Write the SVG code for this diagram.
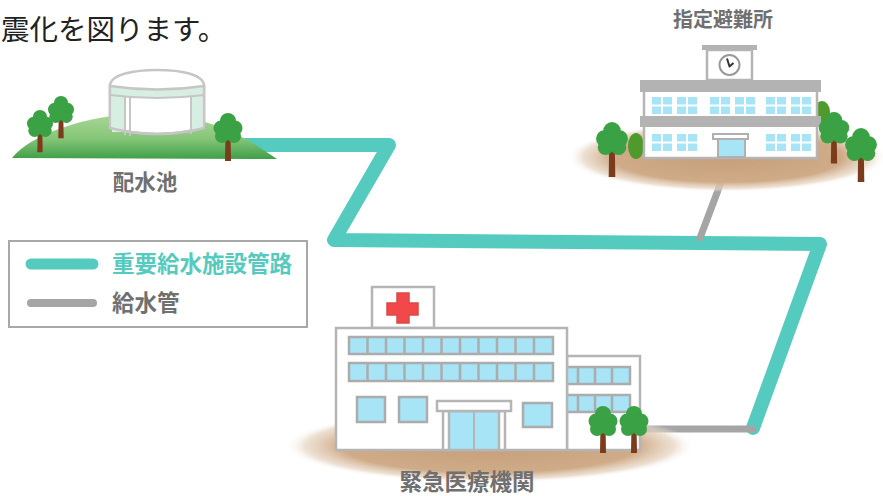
<svg xmlns="http://www.w3.org/2000/svg" xmlns:xlink="http://www.w3.org/1999/xlink" width="883" height="496" viewBox="0 0 883 496">
  <style>
    .lbl { font-family: "Noto Sans CJK JP", "Noto Sans", sans-serif; font-weight: bold; fill: #707070; }
    .title { font-family: "Noto Sans CJK JP", "Noto Sans", sans-serif; fill: #222; }
    .wall { fill: #ffffff; stroke: #b5b5b5; stroke-width: 2.5; }
    .win { fill: #a6e4f6; stroke: #acacac; stroke-width: 2.5; }
    .pane { fill: #a6e4f6; }
    .bar { fill: #b3b3b3; }
    .main-pipe { fill: none; stroke: #55cbbf; stroke-width: 14; stroke-linecap: round; stroke-linejoin: round; }
    .sub-pipe { fill: none; stroke: #a5a5a5; stroke-width: 7; stroke-linecap: round; }
    .trunk { fill: #7c3b1b; }
    .leaf { fill: #3aa244; }
  </style>
  <defs>
    <radialGradient id="ground" cx="0.5" cy="0.5" r="0.5">
      <stop offset="0" stop-color="#c69f7a"/>
      <stop offset="0.72" stop-color="#cfab88"/>
      <stop offset="0.9" stop-color="#e6d3c0" stop-opacity="0.7"/>
      <stop offset="1" stop-color="#ffffff" stop-opacity="0"/>
    </radialGradient>
    <linearGradient id="hill" x1="0" y1="0" x2="0" y2="1">
      <stop offset="0" stop-color="#a9d795"/>
      <stop offset="0.55" stop-color="#86c679"/>
      <stop offset="1" stop-color="#3f9f48"/>
    </linearGradient>
    <g id="canopy">
      <circle class="leaf" cx="0" cy="-11" r="8"/>
      <circle class="leaf" cx="-7" cy="-4" r="7.5"/>
      <circle class="leaf" cx="7" cy="-4" r="7.5"/>
      <circle class="leaf" cx="-6" cy="4" r="7"/>
      <circle class="leaf" cx="6" cy="4" r="7"/>
      <circle class="leaf" cx="0" cy="0" r="8"/>
    </g>
    <!-- 2x2 window block, 20 x 17 -->
    <g id="win4">
      <rect class="pane" x="0" y="0" width="9" height="7.5"/>
      <rect class="pane" x="11" y="0" width="9" height="7.5"/>
      <rect class="pane" x="0" y="9.5" width="9" height="7.5"/>
      <rect class="pane" x="11" y="9.5" width="9" height="7.5"/>
    </g>
  </defs>

  <rect width="883" height="496" fill="#ffffff"/>

  <text class="title" x="1" y="40" font-size="28.5">震化を図ります。</text>

  <!-- pipes -->
  <g id="connectors">
    <polyline class="main-pipe" points="240,145 389,145 334,240 820,244 753,428"/>
    <line class="sub-pipe" x1="720" y1="185" x2="700" y2="238"/>
    <line class="sub-pipe" x1="640" y1="429" x2="753" y2="429"/>
  </g>

  <!-- reservoir -->
  <g id="reservoir">
    <path d="M12,158 C30,135 80,118 130,114 C185,111 230,125 277,159 Z" fill="url(#hill)"/>
    <path class="wall" d="M110,86 L110,128 Q157,140 204,128 L204,86 Z" stroke="#c6c6c6"/>
    <path d="M111.5,87 L202.5,87 L202.5,95 Q157,100 111.5,95 Z" fill="#d6efe2"/>
    <rect x="112" y="94" width="13" height="38" fill="#d6efe2"/>
    <rect x="192" y="94" width="10" height="36" fill="#d6efe2"/>
    <path d="M125,96 L125,135 M130,97 L130,136 M191,97 L191,134" stroke="#c6c6c6" stroke-width="2" fill="none"/>
    <path d="M110,95 Q157,101 204,95" stroke="#c6c6c6" stroke-width="2" fill="none"/>
    <path d="M110,86 L110,128 Q157,140 204,128 L204,86" stroke="#c6c6c6" stroke-width="2.5" fill="none"/>
    <path d="M110,86 C110,74 135,70 157,70 C180,70 204,74 204,86 Q157,93 110,86 Z" fill="#ffffff" stroke="#c6c6c6" stroke-width="2.5"/>
    <g transform="translate(40,127) scale(0.9)">
      <path class="trunk" d="M-2.5,0 L2.5,0 L3,28 L-3,28 Z"/>
      <use href="#canopy"/>
    </g>
    <g transform="translate(61,113) scale(0.9)">
      <path class="trunk" d="M-2.5,0 L2.5,0 L3,28 L-3,28 Z"/>
      <use href="#canopy"/>
    </g>
    <g transform="translate(228,132) scale(1)">
      <path class="trunk" d="M-2.5,0 L2.5,0 L3,29 L-3,29 Z"/>
      <use href="#canopy"/>
    </g>
    <text class="lbl" x="145" y="190" font-size="21.5" text-anchor="middle">配水池</text>
  </g>

  <!-- evacuation shelter -->
  <g id="shelter">
    <ellipse cx="727" cy="157" rx="160" ry="35" fill="url(#ground)"/>
    <ellipse cx="636" cy="146" rx="8" ry="13" fill="#4f9a2c"/>
    <ellipse cx="822" cy="112" rx="8" ry="11" fill="#4f9a2c"/>
    <rect class="bar" x="702" y="45" width="55" height="5"/>
    <rect class="wall" x="707" y="50" width="45" height="30"/>
    <circle cx="729.5" cy="65" r="10" fill="#ffffff" stroke="#9a9a9a" stroke-width="2"/>
    <path d="M727,58.5 L729.5,66.5 L733.5,63" fill="none" stroke="#333" stroke-width="2" stroke-linejoin="round"/>
    <rect class="wall" x="644" y="90" width="173" height="68"/>
    <rect class="bar" x="640" y="80" width="181" height="12"/>
    <rect class="bar" x="640" y="116" width="181" height="11"/>
    <use href="#win4" x="652" y="97"/>
    <use href="#win4" x="677" y="97"/>
    <use href="#win4" x="710" y="97"/>
    <use href="#win4" x="735" y="97"/>
    <use href="#win4" x="766" y="97"/>
    <use href="#win4" x="791" y="97"/>
    <use href="#win4" x="652" y="134"/>
    <use href="#win4" x="677" y="134"/>
    <use href="#win4" x="766" y="134"/>
    <use href="#win4" x="791" y="134"/>
    <rect x="713" y="134" width="35" height="5" fill="#ffffff" stroke="#b0b0b0" stroke-width="2"/>
    <rect x="718" y="139" width="27" height="18" fill="#a6e4f6" stroke="#b0b0b0" stroke-width="2"/>
    <g transform="translate(612,143) scale(1.1)">
      <path class="trunk" d="M-2.5,0 L2.5,0 L3,31 L-3,31 Z"/>
      <use href="#canopy"/>
    </g>
    <g transform="translate(834,132) scale(1.05)">
      <path class="trunk" d="M-2.5,0 L2.5,0 L3,30 L-3,30 Z"/>
      <use href="#canopy"/>
    </g>
    <g transform="translate(861,149) scale(1.1)">
      <path class="trunk" d="M-2.5,0 L2.5,0 L3,30 L-3,30 Z"/>
      <use href="#canopy"/>
    </g>
    <text class="lbl" x="723" y="27" font-size="20" text-anchor="middle">指定避難所</text>
  </g>

  <!-- legend -->
  <g id="legend">
    <rect x="9" y="241" width="298" height="86" fill="#ffffff" stroke="#a8a8a8" stroke-width="2"/>
    <line x1="31" y1="264" x2="93" y2="264" stroke="#55cbbf" stroke-width="11" stroke-linecap="round"/>
    <text x="112" y="272" font-size="22.5" font-family="Noto Sans CJK JP, Noto Sans, sans-serif" font-weight="bold" fill="#55cbbf">重要給水施設管路</text>
    <line x1="31" y1="303" x2="93" y2="303" stroke="#a5a5a5" stroke-width="8" stroke-linecap="round"/>
    <text class="lbl" x="112" y="311" font-size="22.5">給水管</text>
  </g>

  <!-- emergency hospital -->
  <g id="hospital">
    <ellipse cx="490" cy="446" rx="205" ry="37" fill="url(#ground)"/>
    <rect class="wall" x="567" y="356" width="73" height="94"/>
    <rect class="win" x="560" y="367" width="70" height="17"/>
    <path d="M578,367 V384 M595,367 V384 M612,367 V384" stroke="#acacac" stroke-width="2.5"/>
    <rect class="win" x="560" y="395" width="70" height="17"/>
    <path d="M578,395 V412 M595,395 V412 M612,395 V412" stroke="#acacac" stroke-width="2.5"/>
    <rect class="wall" x="372" y="287" width="62" height="41"/>
    <path d="M397,293 H409 V303 H418 V315 H409 V323 H397 V315 H387 V303 H397 Z" fill="#f2484a" stroke="#d8494a" stroke-width="1.5"/>
    <rect class="wall" x="336" y="328" width="231" height="122"/>
    <rect class="win" x="349" y="337" width="204" height="17"/>
    <path d="M367.5,337 V354 M386,337 V354 M404.5,337 V354 M423,337 V354 M441.5,337 V354 M460,337 V354 M478.5,337 V354 M497,337 V354 M515.5,337 V354 M534,337 V354" stroke="#acacac" stroke-width="2.5"/>
    <rect class="win" x="349" y="363" width="204" height="18"/>
    <path d="M367.5,363 V381 M386,363 V381 M404.5,363 V381 M423,363 V381 M441.5,363 V381 M460,363 V381 M478.5,363 V381 M497,363 V381 M515.5,363 V381 M534,363 V381" stroke="#acacac" stroke-width="2.5"/>
    <rect class="win" x="357" y="397" width="28" height="25"/>
    <rect class="win" x="399" y="397" width="28" height="25"/>
    <rect class="win" x="523" y="403" width="29" height="24"/>
    <rect x="443" y="411" width="62" height="39" fill="#ffffff" stroke="#b5b5b5" stroke-width="2.5"/>
    <rect x="449" y="411" width="50" height="39" fill="#a6e4f6" stroke="#b5b5b5" stroke-width="2.5"/>
    <line x1="474" y1="411" x2="474" y2="450" stroke="#b5b5b5" stroke-width="2"/>
    <rect x="437" y="401" width="74" height="10" fill="#ffffff" stroke="#b5b5b5" stroke-width="2.5"/>
    <g transform="translate(603,425)">
      <path class="trunk" d="M-2.5,0 L2.5,0 L3,28 L-3,28 Z"/>
      <use href="#canopy"/>
    </g>
    <g transform="translate(634,425)">
      <path class="trunk" d="M-2.5,0 L2.5,0 L3,28 L-3,28 Z"/>
      <use href="#canopy"/>
    </g>
    <text class="lbl" x="467" y="490" font-size="22.5" text-anchor="middle">緊急医療機関</text>
  </g>
</svg>
